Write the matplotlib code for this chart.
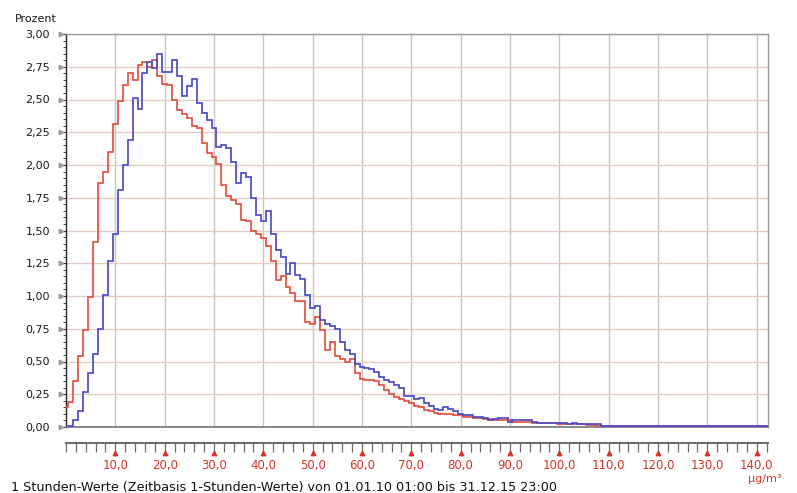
import numpy as np
import matplotlib
matplotlib.use('Agg')
import matplotlib.pyplot as plt
from matplotlib import transforms as mtransforms
from matplotlib.ticker import MultipleLocator, FixedLocator

# ---------------- data ----------------
classes = list(range(143))  # class centres in µg/m³ (1 µg/m³ classes)

red = [0.15, 0.19, 0.35, 0.54, 0.74, 0.99, 1.41, 1.86, 1.95, 2.10,
       2.31, 2.49, 2.61, 2.70, 2.65, 2.76, 2.79, 2.75, 2.80, 2.68,
       2.62, 2.61, 2.50, 2.42, 2.39, 2.36, 2.30, 2.28, 2.17, 2.09,
       2.06, 2.01, 1.85, 1.76, 1.73, 1.70, 1.58, 1.57, 1.50, 1.47,
       1.44, 1.38, 1.27, 1.12, 1.15, 1.07, 1.02, 0.96, 0.96, 0.80,
       0.79, 0.84, 0.74, 0.59, 0.65, 0.54, 0.52, 0.50, 0.52, 0.41,
       0.37, 0.36, 0.36, 0.35, 0.32, 0.28, 0.25, 0.23, 0.21, 0.20,
       0.18, 0.16, 0.15, 0.13, 0.12, 0.11, 0.10, 0.10, 0.10, 0.09,
       0.09, 0.08, 0.08, 0.07, 0.07, 0.06, 0.06, 0.05, 0.05, 0.05,
       0.05, 0.04, 0.04, 0.04, 0.04, 0.03, 0.03, 0.03, 0.03, 0.03,
       0.02, 0.02, 0.02, 0.02, 0.02, 0.02, 0.015, 0.015, 0.01, 0.01,
       0.01, 0.005, 0.005, 0.005, 0.005, 0.005, 0.005, 0.005, 0.005, 0.005,
       0.005, 0.005, 0.005, 0.005, 0.005, 0.005, 0.005, 0.005, 0.005, 0.005,
       0.005, 0.005, 0.005, 0.005, 0.005, 0.005, 0.005, 0.005, 0.005, 0.005,
       0.005, 0.005, 0.005]

blue = [0.01, 0.01, 0.05, 0.12, 0.27, 0.41, 0.56, 0.75, 1.01, 1.27,
        1.47, 1.81, 2.00, 2.19, 2.51, 2.43, 2.70, 2.79, 2.74, 2.85,
        2.71, 2.71, 2.80, 2.68, 2.53, 2.60, 2.66, 2.47, 2.40, 2.34,
        2.28, 2.14, 2.15, 2.13, 2.02, 1.86, 1.94, 1.91, 1.75, 1.62,
        1.57, 1.65, 1.47, 1.35, 1.30, 1.17, 1.25, 1.16, 1.13, 1.01,
        0.91, 0.92, 0.82, 0.79, 0.77, 0.75, 0.65, 0.59, 0.56, 0.48,
        0.46, 0.45, 0.44, 0.42, 0.38, 0.36, 0.34, 0.32, 0.30, 0.24,
        0.24, 0.21, 0.22, 0.18, 0.16, 0.14, 0.13, 0.15, 0.14, 0.12,
        0.10, 0.09, 0.09, 0.08, 0.08, 0.07, 0.05, 0.06, 0.07, 0.07,
        0.04, 0.05, 0.05, 0.05, 0.05, 0.04, 0.03, 0.03, 0.03, 0.03,
        0.03, 0.03, 0.02, 0.03, 0.02, 0.02, 0.02, 0.02, 0.02, 0.01,
        0.01, 0.005, 0.005, 0.005, 0.005, 0.005, 0.005, 0.005, 0.005, 0.005,
        0.005, 0.005, 0.005, 0.005, 0.005, 0.005, 0.005, 0.005, 0.005, 0.005,
        0.005, 0.005, 0.005, 0.005, 0.005, 0.005, 0.005, 0.005, 0.005, 0.005,
        0.005, 0.005, 0.005]

y_ticks = [0.00, 0.25, 0.50, 0.75, 1.00, 1.25, 1.50, 1.75, 2.00, 2.25, 2.50, 2.75, 3.00]
y_labels = ["0,00", "0,25", "0,50", "0,75", "1,00", "1,25", "1,50", "1,75",
            "2,00", "2,25", "2,50", "2,75", "3,00"]
x_ticks = [10, 20, 30, 40, 50, 60, 70, 80, 90, 100, 110, 120, 130, 140]
x_labels = ["10,0", "20,0", "30,0", "40,0", "50,0", "60,0", "70,0", "80,0",
            "90,0", "100,0", "110,0", "120,0", "130,0", "140,0"]

y_title = "Prozent"
x_unit = "µg/m³"
footer = "1 Stunden-Werte (Zeitbasis 1-Stunden-Werte) von 01.01.10 01:00 bis 31.12.15 23:00"

# ---------------- style ----------------
RED = '#e6503f'
BLUE = '#4c4cc9'
LABEL_RED = '#d8322a'
plt.rcParams['font.family'] = ['DejaVu Sans']

W, H = 797, 493
fig = plt.figure(figsize=(W / 100, H / 100), dpi=100)
fig.patch.set_facecolor('white')

L, R, T, B = 66, 768, 34, 427
ax = fig.add_axes([L / W, 1 - B / H, (R - L) / W, (B - T) / H])
ax.set_facecolor('white')

edges = np.append(np.array(classes) - 0.5, classes[-1] + 0.5)
ax.stairs(red, edges, baseline=None, color=RED, lw=1.25, zorder=3)
ax.stairs(blue, edges, baseline=None, color=BLUE, lw=1.25, zorder=4)

ax.set_xlim(0, 142.3)
ax.set_ylim(0, 3.0)

# grid
ax.set_xticks(x_ticks)
ax.tick_params(axis='x', length=0, labelbottom=False)
ax.set_axisbelow(True)
ax.xaxis.grid(True, color='#cdc2bd', lw=1.0)
ax.set_yticks(y_ticks)
ax.set_yticklabels(y_labels)
ax.yaxis.grid(True, color='#e2cdc6', lw=1.0)
ax.yaxis.set_minor_locator(MultipleLocator(0.05))
ax.tick_params(axis='y', which='major', length=3.5, width=0.8, color='#333333',
               pad=8, labelsize=8, labelcolor='#1a1a1a')
ax.tick_params(axis='y', which='minor', length=2.5, width=0.7, color='#444444')

for s in ['top', 'right']:
    ax.spines[s].set_color('#9a9a9a')
    ax.spines[s].set_linewidth(1.0)
ax.spines['bottom'].set_color('#808080')
ax.spines['bottom'].set_linewidth(1.3)
ax.spines['left'].set_color('#222222')
ax.spines['left'].set_linewidth(1.0)

# small triangles next to y labels
tr_y = mtransforms.blended_transform_factory(fig.transFigure, ax.transData)
ax.plot([61 / W] * len(y_ticks), y_ticks, ls='none', marker='>', ms=3.2,
        color='#9a9a9a', transform=tr_y, clip_on=False, zorder=5)

fig.text(15 / W, 1 - 19 / H, y_title, fontsize=8, color='#1a1a1a',
         ha='left', va='center')

# separate x ruler below plot
ry = 443
ax2 = fig.add_axes([L / W, 1 - ry / H, (R - L) / W, 0.0001])
ax2.set_facecolor('none')
ax2.set_xlim(0, 142.3)
ax2.set_ylim(0, 1)
for s in ['top', 'left', 'right']:
    ax2.spines[s].set_visible(False)
ax2.spines['bottom'].set_color('#6a6a6a')
ax2.spines['bottom'].set_linewidth(1.4)
ax2.set_yticks([])
ax2.xaxis.set_major_locator(FixedLocator(x_ticks))
ax2.set_xticklabels(x_labels)
ax2.xaxis.set_minor_locator(MultipleLocator(2))
ax2.tick_params(axis='x', which='both', direction='out', length=6.5, width=0.9,
                color='#6a6a6a')
ax2.tick_params(axis='x', which='major', labelsize=8.5, labelcolor=LABEL_RED, pad=5)

tr_x = mtransforms.blended_transform_factory(ax2.transData, fig.transFigure)
ax2.plot(x_ticks, [1 - 452.5 / H] * len(x_ticks), ls='none', marker='^', ms=3.2,
         color=LABEL_RED, transform=tr_x, clip_on=False)

fig.text(765 / W, 1 - 479 / H, x_unit, fontsize=8, color=LABEL_RED,
         ha='center', va='center')
fig.text(11 / W, 1 - 487 / H, footer, fontsize=9.2, color='#111111',
         ha='left', va='center')

fig.savefig('out.png', dpi=100, facecolor='white')
